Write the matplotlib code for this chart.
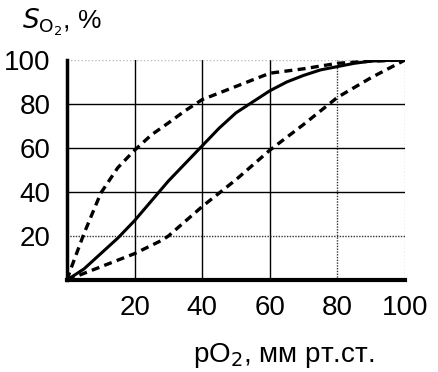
import matplotlib
matplotlib.use("Agg")
import matplotlib.pyplot as plt

plt.rcParams['font.family'] = ['Liberation Sans', 'DejaVu Sans']

# Data (pO2 in mm Hg, SO2 in %)
x_normal = [0, 5, 10, 15, 20, 25, 30, 35, 40, 45, 50, 55, 60, 65, 70, 75, 80, 85, 90, 95, 100]
y_normal = [0, 5, 12, 19, 27, 36, 45, 53, 61, 69, 76, 81, 86, 90, 93, 95.5, 97, 98.5, 99.5, 99.8, 100]

x_left = [0, 1, 5, 10, 15, 20, 25, 30, 35, 40, 50, 60, 70, 80, 90, 100]
y_left = [0, 4.5, 21, 39.5, 51, 59, 66, 71.4, 77, 82, 88, 94, 96, 98.5, 99.5, 100]

x_right = [0, 5, 10, 20, 28, 30, 40, 50, 60, 70, 80, 90, 100]
y_right = [0, 3, 6, 12, 18, 20, 33.4, 45.6, 59, 70.7, 83, 92, 100]

xticks = [20, 40, 60, 80, 100]
yticks = [20, 40, 60, 80, 100]

fig = plt.figure(figsize=(4.39, 3.72), dpi=100)
ax = fig.add_axes([67/439, 1 - 280/372, (405-67)/439, (280-60)/372])
ax.set_xlim(0, 100)
ax.set_ylim(0, 100)

# grid
for v in [20, 40, 60]:
    ax.axvline(v, color='black', lw=1.0, zorder=1)
ax.axvline(80, color='#333333', lw=1.0, ls=(0, (1, 1)), zorder=1)
ax.axvline(100, color='#aaaaaa', lw=1.0, ls=(0, (1, 1.5)), zorder=1)
for v in [40, 60, 80]:
    ax.axhline(v, color='black', lw=1.0, zorder=1)
ax.axhline(20, color='#333333', lw=1.0, ls=(0, (1, 1)), zorder=1)
ax.axhline(100, color='#bbbbbb', lw=1.0, ls=(0, (1, 1.5)), zorder=1)

ax.plot(x_normal, y_normal, color='black', lw=2.2, zorder=3)
ax.plot(x_left, y_left, color='black', lw=2.4, ls=(0, (2.4, 1.6)), zorder=3)
ax.plot(x_right, y_right, color='black', lw=2.4, ls=(0, (2.4, 1.6)), zorder=3)

for s in ['top', 'right']:
    ax.spines[s].set_visible(False)
ax.spines['left'].set_linewidth(2.5)
ax.spines['bottom'].set_linewidth(3)

ax.set_xticks(xticks)
ax.set_yticks(yticks)
ax.tick_params(length=0, labelsize=20, pad=11)
ax.tick_params(axis='y', pad=12)

fig.text(284/439, 1 - 355/372, 'pO$_2$, мм рт.ст.', ha='center', va='center', fontsize=20)
fig.text(22/439, 1 - 22/372, '$S_{\\mathrm{O_2}}$, %', ha='left', va='center', fontsize=19)

fig.savefig('out.png', dpi=100)
